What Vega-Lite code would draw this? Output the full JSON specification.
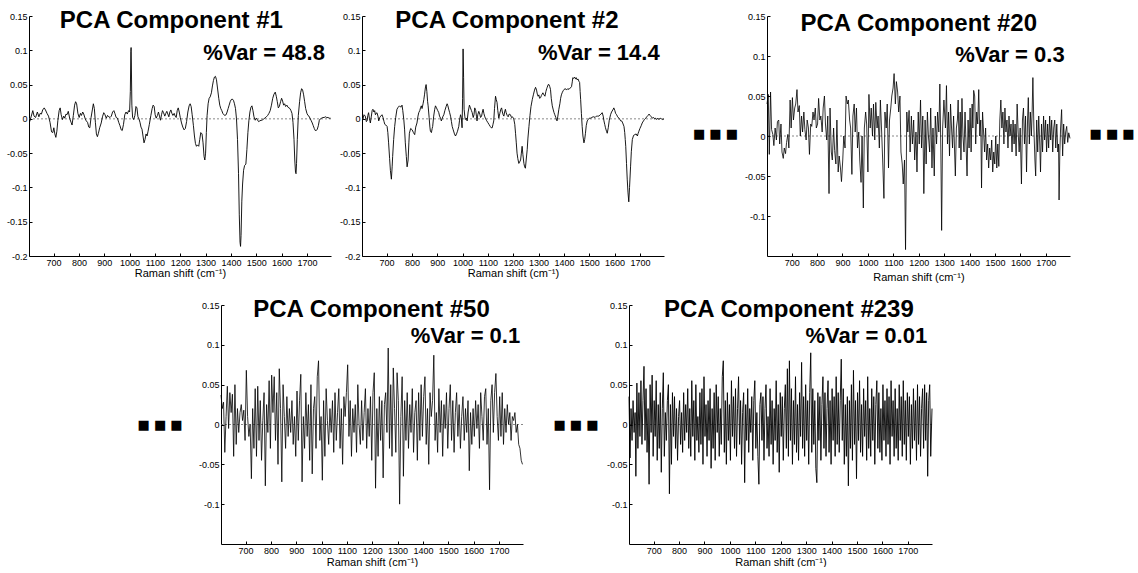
{
"$schema":"https://vega.github.io/schema/vega-lite/v6.json",
"background":"white",
"padding":{"left":6,"top":9,"right":0,"bottom":0},
"config":{
"view":{"stroke":null},
"font":"Liberation Sans",
"text":{"font":"Liberation Sans","color":"#000"},
"axis":{"grid":false,"domainColor":"#000","domainWidth":1,"tickColor":"#000","tickWidth":1,"tickSize":-3,"labelFont":"Liberation Sans","labelFontSize":9,"labelColor":"#000","labelPadding":5,"titleFont":"Liberation Sans","titleFontSize":11,"titleFontWeight":"normal","titleColor":"#000","labelFlush":false,"labelOverlap":false,"titlePadding":4}
},
"datasets":{
"pc1":[{"x":606,"y":-0.004},{"x":612,"y":0.004},{"x":618,"y":0.012},{"x":623,"y":0.004},{"x":629,"y":0.002},{"x":636,"y":0.010},{"x":642,"y":0.003},{"x":647,"y":0.008},{"x":652,"y":0.007},{"x":657,"y":0.013},{"x":663,"y":0.016},{"x":668,"y":0.013},{"x":674,"y":0.008},{"x":680,"y":0.004},{"x":686,"y":-0.005},{"x":692,"y":-0.019},{"x":697,"y":-0.020},{"x":701,"y":-0.013},{"x":705,"y":-0.022},{"x":709,"y":-0.027},{"x":713,"y":-0.018},{"x":717,"y":-0.002},{"x":722,"y":0.012},{"x":726,"y":0.016},{"x":730,"y":0.006},{"x":735,"y":-0.001},{"x":740,"y":0.004},{"x":744,"y":0.001},{"x":749,"y":0.007},{"x":753,"y":0.006},{"x":758,"y":0.011},{"x":764,"y":0.000},{"x":769,"y":-0.005},{"x":773,"y":-0.009},{"x":778,"y":0.005},{"x":783,"y":0.020},{"x":787,"y":0.025},{"x":791,"y":0.022},{"x":796,"y":0.008},{"x":801,"y":0.002},{"x":806,"y":0.008},{"x":810,"y":0.005},{"x":815,"y":0.010},{"x":819,"y":0.007},{"x":825,"y":0.000},{"x":829,"y":-0.003},{"x":834,"y":-0.005},{"x":839,"y":-0.012},{"x":843,"y":-0.013},{"x":848,"y":0.002},{"x":853,"y":0.013},{"x":857,"y":0.022},{"x":861,"y":0.015},{"x":865,"y":-0.005},{"x":869,"y":-0.022},{"x":873,"y":-0.026},{"x":877,"y":-0.021},{"x":882,"y":-0.013},{"x":888,"y":-0.006},{"x":893,"y":0.003},{"x":898,"y":0.009},{"x":903,"y":0.006},{"x":908,"y":0.001},{"x":913,"y":0.005},{"x":918,"y":0.003},{"x":923,"y":0.002},{"x":928,"y":0.004},{"x":933,"y":0.010},{"x":938,"y":0.012},{"x":942,"y":0.008},{"x":947,"y":0.002},{"x":952,"y":0.001},{"x":957,"y":-0.005},{"x":962,"y":-0.010},{"x":967,"y":-0.016},{"x":971,"y":-0.017},{"x":976,"y":-0.008},{"x":981,"y":0.006},{"x":986,"y":0.010},{"x":991,"y":0.007},{"x":996,"y":0.012},{"x":1000,"y":0.010},{"x":1003,"y":0.040},{"x":1005,"y":0.098},{"x":1006,"y":0.104},{"x":1007,"y":0.080},{"x":1009,"y":0.020},{"x":1012,"y":0.002},{"x":1016,"y":-0.001},{"x":1021,"y":0.005},{"x":1025,"y":0.018},{"x":1029,"y":0.016},{"x":1033,"y":0.003},{"x":1037,"y":0.000},{"x":1041,"y":-0.005},{"x":1045,"y":-0.012},{"x":1049,"y":-0.015},{"x":1053,"y":-0.025},{"x":1057,"y":-0.035},{"x":1061,"y":-0.030},{"x":1065,"y":-0.022},{"x":1069,"y":-0.025},{"x":1073,"y":-0.018},{"x":1078,"y":-0.008},{"x":1084,"y":0.005},{"x":1089,"y":0.015},{"x":1093,"y":0.020},{"x":1097,"y":0.018},{"x":1101,"y":0.006},{"x":1105,"y":0.001},{"x":1110,"y":0.005},{"x":1114,"y":0.010},{"x":1118,"y":0.004},{"x":1122,"y":-0.002},{"x":1126,"y":0.006},{"x":1130,"y":0.012},{"x":1134,"y":0.009},{"x":1139,"y":0.004},{"x":1143,"y":0.008},{"x":1147,"y":0.011},{"x":1151,"y":0.007},{"x":1155,"y":0.003},{"x":1159,"y":0.010},{"x":1163,"y":0.013},{"x":1167,"y":0.008},{"x":1171,"y":0.005},{"x":1176,"y":0.008},{"x":1180,"y":0.004},{"x":1184,"y":0.002},{"x":1188,"y":0.012},{"x":1192,"y":0.016},{"x":1196,"y":0.010},{"x":1200,"y":0.002},{"x":1205,"y":-0.006},{"x":1210,"y":-0.012},{"x":1215,"y":-0.016},{"x":1220,"y":-0.014},{"x":1225,"y":-0.004},{"x":1230,"y":0.010},{"x":1235,"y":0.019},{"x":1239,"y":0.022},{"x":1243,"y":0.018},{"x":1247,"y":0.006},{"x":1252,"y":-0.010},{"x":1256,"y":-0.025},{"x":1260,"y":-0.036},{"x":1264,"y":-0.040},{"x":1268,"y":-0.038},{"x":1273,"y":-0.040},{"x":1277,"y":-0.030},{"x":1281,"y":-0.020},{"x":1286,"y":-0.022},{"x":1290,"y":-0.035},{"x":1294,"y":-0.055},{"x":1297,"y":-0.060},{"x":1300,"y":-0.050},{"x":1303,"y":-0.020},{"x":1306,"y":0.005},{"x":1310,"y":0.022},{"x":1314,"y":0.030},{"x":1318,"y":0.032},{"x":1323,"y":0.038},{"x":1327,"y":0.048},{"x":1331,"y":0.056},{"x":1335,"y":0.061},{"x":1339,"y":0.062},{"x":1343,"y":0.057},{"x":1347,"y":0.045},{"x":1352,"y":0.030},{"x":1356,"y":0.020},{"x":1360,"y":0.015},{"x":1364,"y":0.012},{"x":1368,"y":0.008},{"x":1372,"y":0.006},{"x":1376,"y":0.005},{"x":1381,"y":0.006},{"x":1385,"y":0.010},{"x":1389,"y":0.015},{"x":1393,"y":0.020},{"x":1397,"y":0.025},{"x":1401,"y":0.028},{"x":1405,"y":0.029},{"x":1410,"y":0.027},{"x":1414,"y":0.022},{"x":1418,"y":0.015},{"x":1422,"y":0.000},{"x":1426,"y":-0.030},{"x":1430,"y":-0.080},{"x":1433,"y":-0.140},{"x":1436,"y":-0.180},{"x":1438,"y":-0.186},{"x":1440,"y":-0.170},{"x":1443,"y":-0.120},{"x":1446,"y":-0.095},{"x":1450,"y":-0.075},{"x":1454,"y":-0.068},{"x":1459,"y":-0.066},{"x":1463,"y":-0.045},{"x":1467,"y":-0.020},{"x":1471,"y":-0.002},{"x":1475,"y":0.010},{"x":1479,"y":0.017},{"x":1483,"y":0.019},{"x":1487,"y":0.012},{"x":1491,"y":0.003},{"x":1496,"y":-0.002},{"x":1500,"y":0.001},{"x":1504,"y":-0.001},{"x":1509,"y":-0.004},{"x":1514,"y":-0.003},{"x":1519,"y":-0.002},{"x":1524,"y":-0.002},{"x":1529,"y":0.000},{"x":1534,"y":0.001},{"x":1540,"y":0.003},{"x":1545,"y":0.005},{"x":1550,"y":0.008},{"x":1555,"y":0.012},{"x":1560,"y":0.020},{"x":1565,"y":0.030},{"x":1570,"y":0.036},{"x":1575,"y":0.039},{"x":1579,"y":0.033},{"x":1583,"y":0.025},{"x":1587,"y":0.016},{"x":1591,"y":0.018},{"x":1596,"y":0.025},{"x":1600,"y":0.030},{"x":1604,"y":0.026},{"x":1608,"y":0.020},{"x":1612,"y":0.022},{"x":1616,"y":0.018},{"x":1621,"y":0.020},{"x":1625,"y":0.017},{"x":1629,"y":0.016},{"x":1633,"y":0.015},{"x":1637,"y":0.012},{"x":1641,"y":0.008},{"x":1645,"y":-0.005},{"x":1649,"y":-0.030},{"x":1652,"y":-0.060},{"x":1655,"y":-0.078},{"x":1657,"y":-0.080},{"x":1659,"y":-0.065},{"x":1662,"y":-0.030},{"x":1666,"y":0.005},{"x":1671,"y":0.025},{"x":1675,"y":0.038},{"x":1679,"y":0.044},{"x":1683,"y":0.042},{"x":1687,"y":0.035},{"x":1691,"y":0.025},{"x":1695,"y":0.015},{"x":1700,"y":0.008},{"x":1704,"y":0.005},{"x":1708,"y":0.004},{"x":1712,"y":0.001},{"x":1716,"y":-0.002},{"x":1721,"y":-0.006},{"x":1725,"y":-0.010},{"x":1729,"y":-0.014},{"x":1733,"y":-0.017},{"x":1737,"y":-0.017},{"x":1741,"y":-0.015},{"x":1745,"y":-0.010},{"x":1749,"y":-0.002},{"x":1753,"y":0.000},{"x":1758,"y":0.001},{"x":1763,"y":0.002},{"x":1768,"y":0.002},{"x":1773,"y":0.003},{"x":1778,"y":0.002},{"x":1783,"y":0.002},{"x":1788,"y":0.001},{"x":1793,"y":0.001}],
"pc2":[{"x":606,"y":-0.001},{"x":611,"y":0.006},{"x":616,"y":0.004},{"x":620,"y":-0.004},{"x":623,"y":-0.003},{"x":626,"y":0.005},{"x":629,"y":0.009},{"x":632,"y":0.001},{"x":636,"y":-0.006},{"x":640,"y":0.004},{"x":643,"y":0.012},{"x":646,"y":0.014},{"x":650,"y":0.010},{"x":653,"y":0.012},{"x":656,"y":0.006},{"x":659,"y":0.008},{"x":662,"y":0.009},{"x":666,"y":0.004},{"x":669,"y":-0.003},{"x":673,"y":0.002},{"x":677,"y":0.004},{"x":682,"y":0.006},{"x":686,"y":0.002},{"x":690,"y":-0.004},{"x":693,"y":-0.008},{"x":697,"y":-0.009},{"x":702,"y":-0.011},{"x":705,"y":-0.020},{"x":708,"y":-0.035},{"x":712,"y":-0.058},{"x":715,"y":-0.075},{"x":719,"y":-0.088},{"x":722,"y":-0.070},{"x":724,"y":-0.055},{"x":728,"y":-0.030},{"x":732,"y":-0.011},{"x":736,"y":0.002},{"x":741,"y":0.014},{"x":746,"y":0.017},{"x":751,"y":0.019},{"x":756,"y":0.017},{"x":761,"y":0.020},{"x":764,"y":0.012},{"x":768,"y":-0.001},{"x":771,"y":-0.015},{"x":774,"y":-0.035},{"x":778,"y":-0.055},{"x":781,"y":-0.070},{"x":785,"y":-0.060},{"x":788,"y":-0.035},{"x":790,"y":-0.021},{"x":795,"y":-0.014},{"x":801,"y":-0.016},{"x":806,"y":-0.020},{"x":811,"y":-0.023},{"x":815,"y":-0.012},{"x":820,"y":-0.006},{"x":824,"y":0.004},{"x":827,"y":0.009},{"x":831,"y":0.012},{"x":834,"y":0.016},{"x":837,"y":0.019},{"x":840,"y":0.015},{"x":844,"y":0.022},{"x":847,"y":0.028},{"x":850,"y":0.036},{"x":853,"y":0.045},{"x":856,"y":0.050},{"x":859,"y":0.040},{"x":862,"y":0.025},{"x":864,"y":0.019},{"x":868,"y":0.002},{"x":871,"y":-0.012},{"x":873,"y":-0.018},{"x":877,"y":-0.020},{"x":880,"y":-0.014},{"x":882,"y":-0.011},{"x":886,"y":0.004},{"x":890,"y":0.014},{"x":893,"y":0.019},{"x":897,"y":0.016},{"x":902,"y":0.012},{"x":906,"y":0.009},{"x":909,"y":0.004},{"x":913,"y":0.001},{"x":916,"y":-0.003},{"x":920,"y":0.001},{"x":923,"y":0.004},{"x":926,"y":0.006},{"x":930,"y":0.012},{"x":935,"y":0.018},{"x":939,"y":0.022},{"x":942,"y":0.019},{"x":946,"y":0.013},{"x":949,"y":0.009},{"x":953,"y":0.003},{"x":956,"y":-0.004},{"x":959,"y":-0.011},{"x":963,"y":-0.016},{"x":968,"y":-0.022},{"x":972,"y":-0.025},{"x":976,"y":-0.022},{"x":980,"y":-0.018},{"x":985,"y":-0.011},{"x":988,"y":-0.002},{"x":992,"y":0.006},{"x":995,"y":0.002},{"x":998,"y":-0.013},{"x":1000,"y":0.030},{"x":1002,"y":0.102},{"x":1004,"y":0.060},{"x":1006,"y":0.014},{"x":1009,"y":0.003},{"x":1011,"y":-0.001},{"x":1015,"y":0.001},{"x":1018,"y":-0.003},{"x":1022,"y":0.010},{"x":1027,"y":0.020},{"x":1031,"y":0.016},{"x":1035,"y":0.012},{"x":1038,"y":0.009},{"x":1042,"y":0.002},{"x":1045,"y":0.006},{"x":1048,"y":0.016},{"x":1052,"y":0.012},{"x":1055,"y":0.003},{"x":1057,"y":-0.003},{"x":1060,"y":0.006},{"x":1064,"y":0.011},{"x":1068,"y":0.007},{"x":1071,"y":0.002},{"x":1075,"y":0.004},{"x":1078,"y":0.010},{"x":1081,"y":0.014},{"x":1084,"y":0.008},{"x":1087,"y":0.004},{"x":1090,"y":0.001},{"x":1094,"y":-0.002},{"x":1099,"y":-0.005},{"x":1104,"y":-0.008},{"x":1109,"y":-0.011},{"x":1113,"y":-0.013},{"x":1117,"y":-0.013},{"x":1120,"y":-0.008},{"x":1123,"y":-0.003},{"x":1126,"y":0.015},{"x":1130,"y":0.033},{"x":1133,"y":0.028},{"x":1136,"y":0.024},{"x":1139,"y":0.012},{"x":1143,"y":0.001},{"x":1147,"y":0.008},{"x":1151,"y":0.014},{"x":1154,"y":0.016},{"x":1157,"y":0.010},{"x":1160,"y":0.006},{"x":1163,"y":0.004},{"x":1166,"y":0.010},{"x":1169,"y":0.014},{"x":1172,"y":0.009},{"x":1176,"y":0.005},{"x":1180,"y":0.003},{"x":1184,"y":0.007},{"x":1189,"y":0.006},{"x":1193,"y":0.002},{"x":1197,"y":0.003},{"x":1202,"y":0.000},{"x":1206,"y":-0.008},{"x":1209,"y":-0.021},{"x":1212,"y":-0.035},{"x":1215,"y":-0.050},{"x":1218,"y":-0.058},{"x":1222,"y":-0.065},{"x":1225,"y":-0.063},{"x":1229,"y":-0.060},{"x":1232,"y":-0.050},{"x":1235,"y":-0.040},{"x":1238,"y":-0.052},{"x":1242,"y":-0.065},{"x":1245,"y":-0.070},{"x":1248,"y":-0.072},{"x":1251,"y":-0.060},{"x":1255,"y":-0.045},{"x":1258,"y":-0.028},{"x":1262,"y":-0.011},{"x":1266,"y":0.005},{"x":1270,"y":0.018},{"x":1275,"y":0.028},{"x":1280,"y":0.036},{"x":1284,"y":0.042},{"x":1288,"y":0.046},{"x":1292,"y":0.042},{"x":1295,"y":0.036},{"x":1298,"y":0.033},{"x":1301,"y":0.035},{"x":1304,"y":0.030},{"x":1308,"y":0.031},{"x":1311,"y":0.034},{"x":1314,"y":0.036},{"x":1317,"y":0.038},{"x":1321,"y":0.035},{"x":1325,"y":0.033},{"x":1329,"y":0.040},{"x":1332,"y":0.044},{"x":1334,"y":0.046},{"x":1338,"y":0.050},{"x":1341,"y":0.050},{"x":1344,"y":0.047},{"x":1347,"y":0.043},{"x":1350,"y":0.030},{"x":1354,"y":0.019},{"x":1358,"y":0.013},{"x":1361,"y":0.009},{"x":1364,"y":0.006},{"x":1368,"y":0.002},{"x":1371,"y":-0.002},{"x":1373,"y":-0.003},{"x":1376,"y":0.004},{"x":1380,"y":0.014},{"x":1384,"y":0.022},{"x":1387,"y":0.030},{"x":1390,"y":0.035},{"x":1393,"y":0.038},{"x":1397,"y":0.041},{"x":1401,"y":0.043},{"x":1406,"y":0.044},{"x":1410,"y":0.042},{"x":1415,"y":0.044},{"x":1420,"y":0.043},{"x":1425,"y":0.045},{"x":1430,"y":0.047},{"x":1433,"y":0.054},{"x":1435,"y":0.060},{"x":1438,"y":0.059},{"x":1442,"y":0.061},{"x":1446,"y":0.058},{"x":1449,"y":0.060},{"x":1452,"y":0.057},{"x":1456,"y":0.058},{"x":1459,"y":0.055},{"x":1462,"y":0.053},{"x":1464,"y":0.040},{"x":1466,"y":0.028},{"x":1469,"y":0.008},{"x":1472,"y":-0.011},{"x":1475,"y":-0.025},{"x":1479,"y":-0.035},{"x":1482,"y":-0.030},{"x":1485,"y":-0.021},{"x":1488,"y":-0.010},{"x":1492,"y":-0.003},{"x":1496,"y":-0.001},{"x":1500,"y":0.001},{"x":1505,"y":0.001},{"x":1510,"y":0.002},{"x":1515,"y":0.003},{"x":1518,"y":0.003},{"x":1523,"y":0.002},{"x":1528,"y":0.004},{"x":1533,"y":0.004},{"x":1538,"y":0.004},{"x":1543,"y":0.006},{"x":1547,"y":0.007},{"x":1551,"y":0.009},{"x":1555,"y":0.004},{"x":1558,"y":-0.003},{"x":1561,"y":-0.008},{"x":1564,"y":-0.013},{"x":1568,"y":-0.018},{"x":1571,"y":-0.021},{"x":1575,"y":-0.013},{"x":1579,"y":-0.002},{"x":1584,"y":0.006},{"x":1588,"y":0.010},{"x":1593,"y":0.013},{"x":1597,"y":0.016},{"x":1601,"y":0.012},{"x":1604,"y":0.008},{"x":1608,"y":0.006},{"x":1612,"y":0.003},{"x":1617,"y":0.001},{"x":1621,"y":-0.001},{"x":1624,"y":-0.003},{"x":1628,"y":-0.003},{"x":1632,"y":-0.006},{"x":1635,"y":-0.009},{"x":1637,"y":-0.011},{"x":1640,"y":-0.020},{"x":1642,"y":-0.030},{"x":1644,"y":-0.040},{"x":1647,"y":-0.065},{"x":1650,"y":-0.089},{"x":1653,"y":-0.108},{"x":1656,"y":-0.121},{"x":1659,"y":-0.100},{"x":1663,"y":-0.070},{"x":1666,"y":-0.048},{"x":1670,"y":-0.030},{"x":1675,"y":-0.024},{"x":1680,"y":-0.023},{"x":1685,"y":-0.022},{"x":1690,"y":-0.025},{"x":1693,"y":-0.021},{"x":1696,"y":-0.018},{"x":1700,"y":-0.014},{"x":1705,"y":-0.010},{"x":1709,"y":-0.006},{"x":1714,"y":-0.003},{"x":1718,"y":-0.001},{"x":1723,"y":0.001},{"x":1727,"y":0.003},{"x":1732,"y":0.005},{"x":1736,"y":0.007},{"x":1740,"y":0.005},{"x":1745,"y":0.003},{"x":1749,"y":0.001},{"x":1754,"y":0.002},{"x":1758,"y":0.000},{"x":1762,"y":0.001},{"x":1766,"y":-0.001},{"x":1770,"y":0.001},{"x":1775,"y":-0.001},{"x":1780,"y":0.001},{"x":1785,"y":0.000},{"x":1790,"y":-0.001},{"x":1795,"y":0.000}],
"pc20":[{"x":603,"y":0.040},{"x":608,"y":0.052},{"x":612,"y":-0.023},{"x":617,"y":0.055},{"x":621,"y":0.008},{"x":626,"y":0.002},{"x":630,"y":-0.012},{"x":635,"y":0.010},{"x":640,"y":-0.005},{"x":644,"y":0.018},{"x":649,"y":0.020},{"x":653,"y":-0.010},{"x":658,"y":0.015},{"x":662,"y":-0.020},{"x":667,"y":-0.028},{"x":671,"y":-0.015},{"x":676,"y":-0.022},{"x":680,"y":-0.008},{"x":685,"y":0.002},{"x":689,"y":-0.015},{"x":694,"y":0.045},{"x":698,"y":0.010},{"x":703,"y":0.048},{"x":707,"y":0.020},{"x":712,"y":0.035},{"x":716,"y":0.040},{"x":721,"y":0.058},{"x":725,"y":0.030},{"x":730,"y":0.038},{"x":734,"y":0.000},{"x":739,"y":0.025},{"x":743,"y":0.005},{"x":748,"y":0.030},{"x":752,"y":0.008},{"x":757,"y":-0.005},{"x":761,"y":0.020},{"x":766,"y":0.010},{"x":770,"y":-0.023},{"x":775,"y":0.015},{"x":779,"y":0.012},{"x":784,"y":0.030},{"x":788,"y":0.020},{"x":793,"y":0.035},{"x":797,"y":0.010},{"x":802,"y":0.015},{"x":806,"y":0.047},{"x":811,"y":0.020},{"x":815,"y":0.025},{"x":820,"y":0.005},{"x":824,"y":0.035},{"x":829,"y":0.050},{"x":833,"y":0.015},{"x":838,"y":-0.005},{"x":842,"y":0.025},{"x":847,"y":-0.072},{"x":851,"y":0.035},{"x":856,"y":-0.020},{"x":860,"y":-0.030},{"x":865,"y":0.010},{"x":869,"y":-0.018},{"x":874,"y":-0.035},{"x":878,"y":0.020},{"x":883,"y":-0.045},{"x":887,"y":-0.025},{"x":892,"y":-0.040},{"x":896,"y":-0.057},{"x":901,"y":-0.030},{"x":905,"y":0.000},{"x":910,"y":-0.015},{"x":914,"y":0.050},{"x":919,"y":0.040},{"x":923,"y":0.045},{"x":928,"y":0.020},{"x":932,"y":0.010},{"x":937,"y":-0.048},{"x":941,"y":0.025},{"x":946,"y":0.040},{"x":950,"y":0.005},{"x":955,"y":0.035},{"x":959,"y":-0.015},{"x":964,"y":0.005},{"x":968,"y":-0.030},{"x":973,"y":-0.058},{"x":977,"y":0.000},{"x":982,"y":-0.090},{"x":986,"y":0.010},{"x":991,"y":0.030},{"x":995,"y":0.015},{"x":1000,"y":-0.045},{"x":1004,"y":0.052},{"x":1009,"y":0.010},{"x":1013,"y":0.035},{"x":1018,"y":0.000},{"x":1022,"y":0.040},{"x":1027,"y":-0.005},{"x":1031,"y":0.042},{"x":1036,"y":0.010},{"x":1040,"y":0.025},{"x":1045,"y":-0.015},{"x":1049,"y":0.045},{"x":1054,"y":0.005},{"x":1058,"y":-0.030},{"x":1063,"y":-0.078},{"x":1067,"y":0.030},{"x":1072,"y":0.010},{"x":1076,"y":0.040},{"x":1081,"y":-0.040},{"x":1085,"y":0.020},{"x":1090,"y":0.035},{"x":1094,"y":0.050},{"x":1099,"y":0.060},{"x":1103,"y":0.078},{"x":1108,"y":0.040},{"x":1112,"y":0.068},{"x":1117,"y":0.055},{"x":1121,"y":0.030},{"x":1126,"y":0.050},{"x":1130,"y":-0.020},{"x":1135,"y":-0.035},{"x":1139,"y":-0.060},{"x":1144,"y":-0.030},{"x":1148,"y":-0.142},{"x":1153,"y":0.030},{"x":1157,"y":0.005},{"x":1162,"y":0.032},{"x":1166,"y":-0.020},{"x":1171,"y":0.025},{"x":1175,"y":-0.010},{"x":1180,"y":0.020},{"x":1184,"y":-0.030},{"x":1189,"y":0.005},{"x":1193,"y":-0.045},{"x":1198,"y":0.030},{"x":1202,"y":-0.010},{"x":1207,"y":0.045},{"x":1211,"y":-0.015},{"x":1216,"y":0.025},{"x":1220,"y":-0.072},{"x":1225,"y":0.020},{"x":1229,"y":-0.035},{"x":1234,"y":0.030},{"x":1238,"y":0.000},{"x":1243,"y":-0.020},{"x":1247,"y":0.035},{"x":1252,"y":-0.040},{"x":1256,"y":0.010},{"x":1261,"y":-0.050},{"x":1265,"y":0.025},{"x":1270,"y":-0.010},{"x":1274,"y":0.030},{"x":1279,"y":0.005},{"x":1283,"y":0.065},{"x":1287,"y":-0.020},{"x":1290,"y":-0.118},{"x":1294,"y":0.010},{"x":1299,"y":0.045},{"x":1305,"y":0.010},{"x":1309,"y":0.063},{"x":1313,"y":-0.010},{"x":1317,"y":0.030},{"x":1321,"y":-0.025},{"x":1325,"y":0.040},{"x":1329,"y":0.010},{"x":1333,"y":-0.015},{"x":1337,"y":0.025},{"x":1341,"y":-0.020},{"x":1344,"y":-0.050},{"x":1348,"y":0.010},{"x":1352,"y":0.020},{"x":1355,"y":0.045},{"x":1359,"y":-0.015},{"x":1363,"y":0.030},{"x":1366,"y":-0.030},{"x":1370,"y":0.047},{"x":1374,"y":0.000},{"x":1378,"y":-0.020},{"x":1382,"y":0.030},{"x":1386,"y":-0.010},{"x":1390,"y":-0.050},{"x":1394,"y":0.020},{"x":1398,"y":-0.015},{"x":1402,"y":0.035},{"x":1406,"y":-0.020},{"x":1410,"y":0.040},{"x":1413,"y":0.010},{"x":1416,"y":0.057},{"x":1420,"y":0.050},{"x":1424,"y":-0.010},{"x":1428,"y":0.030},{"x":1432,"y":0.015},{"x":1436,"y":0.058},{"x":1440,"y":0.000},{"x":1444,"y":0.020},{"x":1447,"y":-0.065},{"x":1451,"y":0.030},{"x":1455,"y":0.005},{"x":1459,"y":-0.020},{"x":1463,"y":0.010},{"x":1467,"y":-0.030},{"x":1471,"y":-0.010},{"x":1475,"y":-0.040},{"x":1479,"y":-0.015},{"x":1483,"y":-0.030},{"x":1487,"y":-0.005},{"x":1491,"y":-0.045},{"x":1495,"y":-0.020},{"x":1499,"y":-0.035},{"x":1503,"y":0.000},{"x":1507,"y":-0.040},{"x":1511,"y":-0.010},{"x":1515,"y":-0.038},{"x":1519,"y":0.020},{"x":1523,"y":0.045},{"x":1527,"y":0.010},{"x":1531,"y":0.030},{"x":1535,"y":-0.010},{"x":1539,"y":0.035},{"x":1543,"y":0.005},{"x":1547,"y":0.020},{"x":1551,"y":-0.015},{"x":1555,"y":0.025},{"x":1559,"y":0.000},{"x":1563,"y":0.015},{"x":1567,"y":-0.020},{"x":1571,"y":0.020},{"x":1575,"y":-0.010},{"x":1579,"y":0.015},{"x":1583,"y":-0.025},{"x":1587,"y":0.040},{"x":1591,"y":0.005},{"x":1595,"y":-0.020},{"x":1599,"y":0.010},{"x":1604,"y":-0.060},{"x":1608,"y":0.020},{"x":1612,"y":0.035},{"x":1616,"y":-0.010},{"x":1620,"y":0.025},{"x":1624,"y":-0.045},{"x":1628,"y":0.020},{"x":1631,"y":0.048},{"x":1635,"y":-0.010},{"x":1639,"y":0.030},{"x":1643,"y":0.000},{"x":1646,"y":0.030},{"x":1649,"y":0.073},{"x":1653,"y":0.010},{"x":1657,"y":-0.030},{"x":1660,"y":-0.050},{"x":1664,"y":0.020},{"x":1668,"y":-0.020},{"x":1672,"y":0.025},{"x":1676,"y":-0.010},{"x":1679,"y":-0.045},{"x":1683,"y":0.015},{"x":1687,"y":-0.020},{"x":1691,"y":0.025},{"x":1695,"y":-0.005},{"x":1699,"y":0.020},{"x":1703,"y":-0.020},{"x":1707,"y":0.015},{"x":1711,"y":-0.015},{"x":1715,"y":0.025},{"x":1719,"y":-0.005},{"x":1723,"y":0.020},{"x":1727,"y":-0.020},{"x":1731,"y":0.010},{"x":1735,"y":0.020},{"x":1739,"y":-0.015},{"x":1743,"y":0.015},{"x":1747,"y":-0.020},{"x":1750,"y":-0.010},{"x":1752,"y":-0.080},{"x":1755,"y":-0.020},{"x":1758,"y":0.010},{"x":1762,"y":0.033},{"x":1766,"y":-0.025},{"x":1770,"y":0.015},{"x":1774,"y":-0.010},{"x":1778,"y":0.005},{"x":1782,"y":0.012},{"x":1786,"y":-0.008},{"x":1790,"y":0.004},{"x":1795,"y":-0.003}],
"pc50":[{"x":603,"y":0.037},{"x":608,"y":0.020},{"x":613,"y":0.028},{"x":618,"y":-0.035},{"x":623,"y":0.010},{"x":628,"y":0.048},{"x":633,"y":-0.005},{"x":638,"y":0.040},{"x":643,"y":0.015},{"x":648,"y":0.038},{"x":653,"y":-0.040},{"x":658,"y":0.050},{"x":663,"y":-0.025},{"x":668,"y":0.020},{"x":673,"y":-0.010},{"x":678,"y":0.015},{"x":683,"y":0.025},{"x":688,"y":0.005},{"x":693,"y":0.018},{"x":698,"y":-0.020},{"x":703,"y":0.068},{"x":708,"y":0.010},{"x":713,"y":-0.015},{"x":718,"y":0.000},{"x":723,"y":-0.068},{"x":728,"y":0.020},{"x":733,"y":-0.030},{"x":738,"y":0.045},{"x":743,"y":-0.040},{"x":748,"y":0.048},{"x":753,"y":-0.020},{"x":758,"y":0.030},{"x":763,"y":-0.045},{"x":768,"y":0.005},{"x":773,"y":0.040},{"x":778,"y":-0.077},{"x":783,"y":0.025},{"x":788,"y":-0.010},{"x":793,"y":0.055},{"x":798,"y":-0.030},{"x":803,"y":0.062},{"x":808,"y":0.015},{"x":813,"y":0.060},{"x":818,"y":-0.020},{"x":823,"y":0.040},{"x":828,"y":-0.050},{"x":833,"y":0.070},{"x":838,"y":0.020},{"x":843,"y":-0.072},{"x":848,"y":0.050},{"x":853,"y":0.010},{"x":858,"y":-0.030},{"x":863,"y":0.035},{"x":868,"y":-0.015},{"x":873,"y":0.020},{"x":878,"y":-0.010},{"x":883,"y":0.030},{"x":888,"y":-0.025},{"x":893,"y":0.010},{"x":898,"y":-0.040},{"x":903,"y":0.042},{"x":908,"y":-0.020},{"x":913,"y":0.030},{"x":918,"y":0.063},{"x":923,"y":-0.072},{"x":928,"y":0.010},{"x":933,"y":-0.030},{"x":938,"y":0.040},{"x":943,"y":-0.015},{"x":948,"y":0.025},{"x":953,"y":-0.045},{"x":958,"y":0.050},{"x":963,"y":-0.062},{"x":968,"y":0.020},{"x":973,"y":0.035},{"x":978,"y":-0.030},{"x":983,"y":0.060},{"x":988,"y":0.080},{"x":993,"y":-0.020},{"x":998,"y":0.010},{"x":1003,"y":-0.070},{"x":1008,"y":0.030},{"x":1013,"y":-0.040},{"x":1018,"y":0.045},{"x":1023,"y":0.005},{"x":1028,"y":-0.025},{"x":1033,"y":0.020},{"x":1038,"y":-0.010},{"x":1043,"y":0.030},{"x":1048,"y":-0.035},{"x":1053,"y":0.040},{"x":1058,"y":-0.020},{"x":1063,"y":0.015},{"x":1068,"y":0.045},{"x":1073,"y":-0.030},{"x":1078,"y":0.020},{"x":1083,"y":-0.050},{"x":1088,"y":0.035},{"x":1093,"y":0.010},{"x":1098,"y":0.040},{"x":1103,"y":0.075},{"x":1108,"y":-0.015},{"x":1113,"y":0.030},{"x":1118,"y":-0.040},{"x":1123,"y":0.020},{"x":1128,"y":-0.010},{"x":1133,"y":0.025},{"x":1138,"y":-0.035},{"x":1143,"y":0.050},{"x":1148,"y":0.000},{"x":1153,"y":-0.025},{"x":1158,"y":0.030},{"x":1163,"y":-0.020},{"x":1168,"y":0.015},{"x":1173,"y":0.045},{"x":1178,"y":-0.030},{"x":1183,"y":0.020},{"x":1188,"y":-0.015},{"x":1193,"y":0.035},{"x":1198,"y":-0.045},{"x":1203,"y":0.040},{"x":1208,"y":0.065},{"x":1213,"y":-0.080},{"x":1218,"y":0.020},{"x":1223,"y":-0.040},{"x":1228,"y":0.035},{"x":1233,"y":-0.020},{"x":1238,"y":0.030},{"x":1243,"y":-0.067},{"x":1248,"y":0.025},{"x":1253,"y":0.040},{"x":1258,"y":-0.010},{"x":1263,"y":0.096},{"x":1268,"y":-0.030},{"x":1273,"y":0.050},{"x":1278,"y":-0.040},{"x":1283,"y":0.071},{"x":1288,"y":0.020},{"x":1293,"y":-0.035},{"x":1298,"y":0.065},{"x":1303,"y":0.030},{"x":1308,"y":-0.100},{"x":1313,"y":0.010},{"x":1318,"y":0.060},{"x":1323,"y":-0.065},{"x":1328,"y":0.030},{"x":1333,"y":-0.020},{"x":1338,"y":0.040},{"x":1343,"y":-0.030},{"x":1348,"y":0.025},{"x":1353,"y":-0.010},{"x":1358,"y":0.045},{"x":1363,"y":-0.035},{"x":1368,"y":0.015},{"x":1373,"y":0.030},{"x":1378,"y":-0.045},{"x":1383,"y":0.040},{"x":1388,"y":-0.020},{"x":1393,"y":0.050},{"x":1398,"y":-0.015},{"x":1403,"y":0.035},{"x":1408,"y":0.060},{"x":1413,"y":-0.025},{"x":1418,"y":0.020},{"x":1423,"y":-0.050},{"x":1428,"y":0.040},{"x":1433,"y":0.010},{"x":1438,"y":0.030},{"x":1443,"y":0.087},{"x":1448,"y":-0.020},{"x":1453,"y":0.015},{"x":1458,"y":-0.035},{"x":1463,"y":0.045},{"x":1468,"y":-0.010},{"x":1473,"y":0.030},{"x":1478,"y":-0.040},{"x":1483,"y":0.025},{"x":1488,"y":-0.005},{"x":1493,"y":0.040},{"x":1498,"y":-0.030},{"x":1503,"y":0.020},{"x":1508,"y":0.050},{"x":1513,"y":-0.020},{"x":1518,"y":0.030},{"x":1523,"y":-0.035},{"x":1528,"y":0.015},{"x":1533,"y":0.040},{"x":1538,"y":-0.015},{"x":1543,"y":0.025},{"x":1548,"y":-0.030},{"x":1553,"y":0.010},{"x":1558,"y":0.035},{"x":1563,"y":-0.020},{"x":1568,"y":0.020},{"x":1573,"y":-0.010},{"x":1578,"y":0.030},{"x":1583,"y":-0.058},{"x":1588,"y":0.015},{"x":1593,"y":-0.025},{"x":1598,"y":0.020},{"x":1603,"y":-0.015},{"x":1608,"y":0.030},{"x":1613,"y":-0.005},{"x":1618,"y":0.025},{"x":1623,"y":-0.030},{"x":1628,"y":0.040},{"x":1633,"y":0.010},{"x":1638,"y":-0.020},{"x":1643,"y":0.035},{"x":1648,"y":0.045},{"x":1653,"y":-0.025},{"x":1658,"y":0.020},{"x":1663,"y":-0.082},{"x":1668,"y":0.030},{"x":1673,"y":0.050},{"x":1678,"y":-0.010},{"x":1683,"y":0.040},{"x":1688,"y":0.064},{"x":1693,"y":0.010},{"x":1698,"y":-0.020},{"x":1703,"y":0.035},{"x":1708,"y":-0.015},{"x":1713,"y":0.040},{"x":1718,"y":-0.025},{"x":1723,"y":0.020},{"x":1728,"y":-0.010},{"x":1733,"y":0.025},{"x":1738,"y":0.000},{"x":1743,"y":0.015},{"x":1748,"y":-0.020},{"x":1753,"y":0.010},{"x":1758,"y":0.005},{"x":1763,"y":0.015},{"x":1768,"y":-0.010},{"x":1773,"y":0.000},{"x":1778,"y":-0.025},{"x":1783,"y":-0.030},{"x":1788,"y":-0.045},{"x":1793,"y":-0.050}],
"pc239":[{"x":603,"y":0.035},{"x":607,"y":-0.042},{"x":611,"y":0.020},{"x":615,"y":-0.020},{"x":619,"y":0.030},{"x":623,"y":-0.010},{"x":627,"y":0.015},{"x":630,"y":-0.065},{"x":634,"y":0.052},{"x":638,"y":-0.030},{"x":642,"y":0.040},{"x":646,"y":-0.015},{"x":650,"y":0.055},{"x":654,"y":-0.025},{"x":658,"y":0.030},{"x":662,"y":0.073},{"x":666,"y":-0.020},{"x":670,"y":0.045},{"x":674,"y":-0.035},{"x":678,"y":0.020},{"x":682,"y":-0.075},{"x":686,"y":0.050},{"x":690,"y":-0.010},{"x":694,"y":0.062},{"x":698,"y":-0.040},{"x":702,"y":0.030},{"x":706,"y":-0.015},{"x":710,"y":0.055},{"x":714,"y":-0.045},{"x":718,"y":0.025},{"x":722,"y":-0.030},{"x":726,"y":0.040},{"x":730,"y":-0.060},{"x":734,"y":0.020},{"x":738,"y":0.065},{"x":742,"y":-0.040},{"x":746,"y":0.015},{"x":750,"y":-0.020},{"x":754,"y":0.030},{"x":758,"y":0.050},{"x":762,"y":-0.087},{"x":766,"y":0.025},{"x":770,"y":-0.050},{"x":774,"y":0.040},{"x":778,"y":-0.015},{"x":782,"y":0.035},{"x":786,"y":-0.030},{"x":790,"y":0.020},{"x":794,"y":-0.045},{"x":798,"y":0.010},{"x":802,"y":0.030},{"x":806,"y":-0.025},{"x":810,"y":0.015},{"x":814,"y":-0.035},{"x":818,"y":0.040},{"x":822,"y":-0.020},{"x":826,"y":0.025},{"x":830,"y":-0.010},{"x":834,"y":0.045},{"x":838,"y":-0.030},{"x":842,"y":0.020},{"x":846,"y":-0.040},{"x":850,"y":0.055},{"x":854,"y":-0.015},{"x":858,"y":0.030},{"x":862,"y":-0.045},{"x":866,"y":0.050},{"x":870,"y":-0.020},{"x":874,"y":0.010},{"x":878,"y":-0.035},{"x":882,"y":0.040},{"x":886,"y":-0.025},{"x":890,"y":0.045},{"x":894,"y":-0.050},{"x":898,"y":0.060},{"x":902,"y":-0.015},{"x":906,"y":0.025},{"x":910,"y":-0.040},{"x":914,"y":0.030},{"x":918,"y":-0.020},{"x":922,"y":0.045},{"x":926,"y":-0.055},{"x":930,"y":0.020},{"x":934,"y":-0.030},{"x":938,"y":0.040},{"x":942,"y":-0.045},{"x":946,"y":0.050},{"x":950,"y":-0.010},{"x":954,"y":0.035},{"x":958,"y":-0.040},{"x":962,"y":0.020},{"x":966,"y":-0.025},{"x":970,"y":0.060},{"x":974,"y":0.080},{"x":978,"y":-0.035},{"x":982,"y":0.030},{"x":986,"y":-0.050},{"x":990,"y":0.040},{"x":994,"y":-0.020},{"x":998,"y":0.025},{"x":1002,"y":-0.045},{"x":1006,"y":0.055},{"x":1010,"y":-0.015},{"x":1014,"y":0.035},{"x":1018,"y":-0.030},{"x":1022,"y":0.045},{"x":1026,"y":-0.040},{"x":1030,"y":0.020},{"x":1034,"y":0.060},{"x":1038,"y":-0.025},{"x":1042,"y":0.030},{"x":1046,"y":-0.050},{"x":1050,"y":0.015},{"x":1054,"y":0.040},{"x":1058,"y":-0.073},{"x":1062,"y":0.025},{"x":1066,"y":-0.020},{"x":1070,"y":0.045},{"x":1074,"y":-0.035},{"x":1078,"y":0.020},{"x":1082,"y":-0.010},{"x":1086,"y":0.035},{"x":1090,"y":-0.045},{"x":1094,"y":0.030},{"x":1098,"y":0.055},{"x":1102,"y":-0.030},{"x":1106,"y":0.015},{"x":1110,"y":-0.040},{"x":1114,"y":-0.075},{"x":1118,"y":0.025},{"x":1122,"y":0.040},{"x":1126,"y":-0.020},{"x":1130,"y":0.035},{"x":1134,"y":-0.045},{"x":1138,"y":0.020},{"x":1142,"y":0.050},{"x":1146,"y":-0.030},{"x":1150,"y":0.010},{"x":1154,"y":-0.040},{"x":1158,"y":0.045},{"x":1162,"y":-0.025},{"x":1166,"y":0.030},{"x":1170,"y":-0.050},{"x":1174,"y":0.020},{"x":1178,"y":-0.020},{"x":1182,"y":0.055},{"x":1186,"y":-0.035},{"x":1190,"y":0.025},{"x":1194,"y":-0.060},{"x":1198,"y":0.040},{"x":1202,"y":-0.015},{"x":1206,"y":0.035},{"x":1210,"y":-0.045},{"x":1214,"y":0.020},{"x":1218,"y":0.050},{"x":1222,"y":-0.030},{"x":1226,"y":0.070},{"x":1230,"y":-0.040},{"x":1234,"y":0.080},{"x":1238,"y":-0.020},{"x":1242,"y":0.045},{"x":1246,"y":-0.050},{"x":1250,"y":0.030},{"x":1254,"y":-0.025},{"x":1258,"y":0.060},{"x":1262,"y":-0.035},{"x":1266,"y":0.025},{"x":1270,"y":-0.045},{"x":1274,"y":0.040},{"x":1278,"y":-0.015},{"x":1282,"y":0.078},{"x":1286,"y":-0.030},{"x":1290,"y":0.035},{"x":1294,"y":-0.040},{"x":1298,"y":0.050},{"x":1302,"y":-0.020},{"x":1306,"y":0.030},{"x":1310,"y":-0.050},{"x":1314,"y":0.040},{"x":1318,"y":0.090},{"x":1322,"y":-0.035},{"x":1326,"y":0.045},{"x":1330,"y":-0.025},{"x":1334,"y":0.030},{"x":1338,"y":-0.055},{"x":1342,"y":-0.073},{"x":1346,"y":0.040},{"x":1350,"y":-0.020},{"x":1354,"y":0.035},{"x":1358,"y":-0.045},{"x":1362,"y":0.025},{"x":1366,"y":0.060},{"x":1370,"y":-0.030},{"x":1374,"y":0.040},{"x":1378,"y":-0.040},{"x":1382,"y":0.020},{"x":1386,"y":0.055},{"x":1390,"y":-0.035},{"x":1394,"y":0.030},{"x":1398,"y":-0.050},{"x":1402,"y":0.045},{"x":1406,"y":-0.020},{"x":1410,"y":0.035},{"x":1414,"y":-0.040},{"x":1418,"y":0.060},{"x":1422,"y":-0.025},{"x":1426,"y":0.040},{"x":1430,"y":-0.035},{"x":1434,"y":0.030},{"x":1438,"y":0.082},{"x":1442,"y":-0.020},{"x":1446,"y":0.045},{"x":1450,"y":-0.050},{"x":1454,"y":0.025},{"x":1458,"y":-0.040},{"x":1462,"y":0.035},{"x":1466,"y":-0.077},{"x":1470,"y":0.030},{"x":1474,"y":-0.030},{"x":1478,"y":0.050},{"x":1482,"y":-0.045},{"x":1486,"y":0.068},{"x":1490,"y":-0.025},{"x":1494,"y":0.030},{"x":1498,"y":-0.068},{"x":1502,"y":0.040},{"x":1506,"y":-0.020},{"x":1510,"y":0.055},{"x":1514,"y":-0.035},{"x":1518,"y":0.025},{"x":1522,"y":-0.040},{"x":1526,"y":0.045},{"x":1530,"y":-0.015},{"x":1534,"y":0.030},{"x":1538,"y":-0.045},{"x":1542,"y":0.060},{"x":1546,"y":-0.030},{"x":1550,"y":0.020},{"x":1554,"y":-0.040},{"x":1558,"y":0.045},{"x":1562,"y":-0.020},{"x":1566,"y":0.035},{"x":1570,"y":-0.050},{"x":1574,"y":0.025},{"x":1578,"y":0.055},{"x":1582,"y":-0.030},{"x":1586,"y":0.040},{"x":1590,"y":-0.035},{"x":1594,"y":0.020},{"x":1598,"y":-0.045},{"x":1602,"y":0.050},{"x":1606,"y":-0.020},{"x":1610,"y":0.030},{"x":1614,"y":-0.040},{"x":1618,"y":0.045},{"x":1622,"y":-0.025},{"x":1626,"y":0.035},{"x":1630,"y":-0.050},{"x":1634,"y":0.055},{"x":1638,"y":-0.015},{"x":1642,"y":0.030},{"x":1646,"y":-0.040},{"x":1650,"y":0.045},{"x":1654,"y":-0.030},{"x":1658,"y":0.020},{"x":1662,"y":-0.045},{"x":1666,"y":0.050},{"x":1670,"y":-0.020},{"x":1674,"y":0.035},{"x":1678,"y":-0.040},{"x":1682,"y":0.055},{"x":1686,"y":-0.025},{"x":1690,"y":0.030},{"x":1694,"y":-0.045},{"x":1698,"y":0.040},{"x":1702,"y":-0.015},{"x":1706,"y":0.035},{"x":1710,"y":-0.050},{"x":1714,"y":0.025},{"x":1718,"y":-0.030},{"x":1722,"y":0.045},{"x":1726,"y":-0.020},{"x":1730,"y":0.030},{"x":1734,"y":-0.045},{"x":1738,"y":0.050},{"x":1742,"y":-0.025},{"x":1746,"y":0.035},{"x":1750,"y":-0.040},{"x":1754,"y":0.020},{"x":1758,"y":0.045},{"x":1762,"y":-0.030},{"x":1766,"y":0.050},{"x":1770,"y":-0.020},{"x":1774,"y":0.040},{"x":1778,"y":-0.065},{"x":1782,"y":0.030},{"x":1786,"y":0.050},{"x":1790,"y":-0.040},{"x":1795,"y":0.020}]
},
"spacing":15,
"vconcat":[
{"hconcat":[
{"width":302,"height":240,"layer":[
{"data":{"values":[{}]},"mark":{"type":"rule","color":"#555","strokeWidth":0.7,"strokeDash":[2,2]},"encoding":{"y":{"datum":0,"type":"quantitative","scale":{"domain":[-0.2,0.15],"nice":false,"zero":false},"axis":{"values":[-0.2,-0.15,-0.1,-0.05,0,0.05,0.1,0.15],"labelExpr":"'' + datum.value","title":null}}}},
{"data":{"name":"pc1"},"mark":{"type":"line","color":"#000","strokeWidth":0.9},"encoding":{"x":{"field":"x","type":"quantitative","scale":{"domain":[603,1795],"nice":false,"zero":false},"axis":{"values":[700,800,900,1000,1100,1200,1300,1400,1500,1600,1700],"format":"d","title":"Raman shift (cm⁻¹)","titlePadding":0}},"y":{"field":"y","type":"quantitative","scale":{"domain":[-0.2,0.15],"nice":false,"zero":false},"axis":{"values":[-0.2,-0.15,-0.1,-0.05,0,0.05,0.1,0.15],"labelExpr":"'' + datum.value","title":null}}}},
{"data":{"values":[{}]},"mark":{"type":"text","text":"PCA Component #1","fontSize":24,"fontWeight":"bold","align":"center","baseline":"alphabetic"},"encoding":{"x":{"datum":1165,"type":"quantitative","scale":{"domain":[603,1795],"nice":false,"zero":false},"axis":{"values":[700,800,900,1000,1100,1200,1300,1400,1500,1600,1700],"format":"d","title":"Raman shift (cm⁻¹)","titlePadding":0}},"y":{"datum":0.132,"type":"quantitative","scale":{"domain":[-0.2,0.15],"nice":false,"zero":false},"axis":{"values":[-0.2,-0.15,-0.1,-0.05,0,0.05,0.1,0.15],"labelExpr":"'' + datum.value","title":null}}}},
{"data":{"values":[{}]},"mark":{"type":"text","text":"%Var = 48.8","fontSize":22,"fontWeight":"bold","align":"right","baseline":"alphabetic"},"encoding":{"x":{"datum":1771,"type":"quantitative","scale":{"domain":[603,1795],"nice":false,"zero":false},"axis":{"values":[700,800,900,1000,1100,1200,1300,1400,1500,1600,1700],"format":"d","title":"Raman shift (cm⁻¹)","titlePadding":0}},"y":{"datum":0.086,"type":"quantitative","scale":{"domain":[-0.2,0.15],"nice":false,"zero":false},"axis":{"values":[-0.2,-0.15,-0.1,-0.05,0,0.05,0.1,0.15],"labelExpr":"'' + datum.value","title":null}}}}
]},
{"width":302,"height":240,"layer":[
{"data":{"values":[{}]},"mark":{"type":"rule","color":"#555","strokeWidth":0.7,"strokeDash":[2,2]},"encoding":{"y":{"datum":0,"type":"quantitative","scale":{"domain":[-0.2,0.15],"nice":false,"zero":false},"axis":{"values":[-0.2,-0.15,-0.1,-0.05,0,0.05,0.1,0.15],"labelExpr":"'' + datum.value","title":null}}}},
{"data":{"name":"pc2"},"mark":{"type":"line","color":"#000","strokeWidth":0.9},"encoding":{"x":{"field":"x","type":"quantitative","scale":{"domain":[603,1795],"nice":false,"zero":false},"axis":{"values":[700,800,900,1000,1100,1200,1300,1400,1500,1600,1700],"format":"d","title":"Raman shift (cm⁻¹)","titlePadding":0}},"y":{"field":"y","type":"quantitative","scale":{"domain":[-0.2,0.15],"nice":false,"zero":false},"axis":{"values":[-0.2,-0.15,-0.1,-0.05,0,0.05,0.1,0.15],"labelExpr":"'' + datum.value","title":null}}}},
{"data":{"values":[{}]},"mark":{"type":"text","text":"PCA Component #2","fontSize":24,"fontWeight":"bold","align":"center","baseline":"alphabetic"},"encoding":{"x":{"datum":1175,"type":"quantitative","scale":{"domain":[603,1795],"nice":false,"zero":false},"axis":{"values":[700,800,900,1000,1100,1200,1300,1400,1500,1600,1700],"format":"d","title":"Raman shift (cm⁻¹)","titlePadding":0}},"y":{"datum":0.132,"type":"quantitative","scale":{"domain":[-0.2,0.15],"nice":false,"zero":false},"axis":{"values":[-0.2,-0.15,-0.1,-0.05,0,0.05,0.1,0.15],"labelExpr":"'' + datum.value","title":null}}}},
{"data":{"values":[{}]},"mark":{"type":"text","text":"%Var = 14.4","fontSize":22,"fontWeight":"bold","align":"right","baseline":"alphabetic"},"encoding":{"x":{"datum":1778,"type":"quantitative","scale":{"domain":[603,1795],"nice":false,"zero":false},"axis":{"values":[700,800,900,1000,1100,1200,1300,1400,1500,1600,1700],"format":"d","title":"Raman shift (cm⁻¹)","titlePadding":0}},"y":{"datum":0.086,"type":"quantitative","scale":{"domain":[-0.2,0.15],"nice":false,"zero":false},"axis":{"values":[-0.2,-0.15,-0.1,-0.05,0,0.05,0.1,0.15],"labelExpr":"'' + datum.value","title":null}}}}
]},
{"width":41,"height":240,"data":{"values":[{}]},"mark":{"type":"text","text":"■ ■ ■","font":"DejaVu Sans","fontSize":13,"align":"center","baseline":"middle"},"encoding":{"x":{"datum":0.5,"type":"quantitative","scale":{"domain":[0,1]},"axis":null},"y":{"datum":0.003,"type":"quantitative","scale":{"domain":[-0.15,0.15]},"axis":null}}},
{"width":303,"height":240,"layer":[
{"data":{"values":[{}]},"mark":{"type":"rule","color":"#555","strokeWidth":0.7,"strokeDash":[2,2]},"encoding":{"y":{"datum":0,"type":"quantitative","scale":{"domain":[-0.15,0.15],"nice":false,"zero":false},"axis":{"values":[-0.1,-0.05,0,0.05,0.1,0.15],"labelExpr":"'' + datum.value","title":null}}}},
{"data":{"name":"pc20"},"mark":{"type":"line","color":"#000","strokeWidth":0.8},"encoding":{"x":{"field":"x","type":"quantitative","scale":{"domain":[603,1795],"nice":false,"zero":false},"axis":{"values":[700,800,900,1000,1100,1200,1300,1400,1500,1600,1700],"format":"d","title":"Raman shift (cm⁻¹)"}},"y":{"field":"y","type":"quantitative","scale":{"domain":[-0.15,0.15],"nice":false,"zero":false},"axis":{"values":[-0.1,-0.05,0,0.05,0.1,0.15],"labelExpr":"'' + datum.value","title":null}}}},
{"data":{"values":[{}]},"mark":{"type":"text","text":"PCA Component #20","fontSize":24,"fontWeight":"bold","align":"center","baseline":"alphabetic"},"encoding":{"x":{"datum":1200,"type":"quantitative","scale":{"domain":[603,1795],"nice":false,"zero":false},"axis":{"values":[700,800,900,1000,1100,1200,1300,1400,1500,1600,1700],"format":"d","title":"Raman shift (cm⁻¹)"}},"y":{"datum":0.131,"type":"quantitative","scale":{"domain":[-0.15,0.15],"nice":false,"zero":false},"axis":{"values":[-0.1,-0.05,0,0.05,0.1,0.15],"labelExpr":"'' + datum.value","title":null}}}},
{"data":{"values":[{}]},"mark":{"type":"text","text":"%Var = 0.3","fontSize":22,"fontWeight":"bold","align":"right","baseline":"alphabetic"},"encoding":{"x":{"datum":1774,"type":"quantitative","scale":{"domain":[603,1795],"nice":false,"zero":false},"axis":{"values":[700,800,900,1000,1100,1200,1300,1400,1500,1600,1700],"format":"d","title":"Raman shift (cm⁻¹)"}},"y":{"datum":0.0925,"type":"quantitative","scale":{"domain":[-0.15,0.15],"nice":false,"zero":false},"axis":{"values":[-0.1,-0.05,0,0.05,0.1,0.15],"labelExpr":"'' + datum.value","title":null}}}}
]},
{"width":30,"height":240,"data":{"values":[{}]},"mark":{"type":"text","text":"■ ■ ■","font":"DejaVu Sans","fontSize":13,"align":"center","baseline":"middle"},"encoding":{"x":{"datum":0.37,"type":"quantitative","scale":{"domain":[0,1]},"axis":null},"y":{"datum":0.003,"type":"quantitative","scale":{"domain":[-0.15,0.15]},"axis":null}}}
],"spacing":31,"bounds":"flush"},
{"hconcat":[
{"width":161,"height":239,"data":{"values":[{}]},"mark":{"type":"text","text":"■ ■ ■","font":"DejaVu Sans","fontSize":13,"align":"center","baseline":"middle"},"encoding":{"x":{"datum":0.814,"type":"quantitative","scale":{"domain":[0,1]},"axis":null},"y":{"datum":0,"type":"quantitative","scale":{"domain":[-0.15,0.15]},"axis":null}}},
{"width":302,"height":239,"layer":[
{"data":{"values":[{}]},"mark":{"type":"rule","color":"#555","strokeWidth":0.7,"strokeDash":[2,2]},"encoding":{"y":{"datum":0,"type":"quantitative","scale":{"domain":[-0.15,0.15],"nice":false,"zero":false},"axis":{"values":[-0.1,-0.05,0,0.05,0.1,0.15],"labelExpr":"'' + datum.value","title":null}}}},
{"data":{"name":"pc50"},"mark":{"type":"line","color":"#000","strokeWidth":0.8},"encoding":{"x":{"field":"x","type":"quantitative","scale":{"domain":[603,1795],"nice":false,"zero":false},"axis":{"values":[700,800,900,1000,1100,1200,1300,1400,1500,1600,1700],"format":"d","title":"Raman shift (cm⁻¹)","titlePadding":1}},"y":{"field":"y","type":"quantitative","scale":{"domain":[-0.15,0.15],"nice":false,"zero":false},"axis":{"values":[-0.1,-0.05,0,0.05,0.1,0.15],"labelExpr":"'' + datum.value","title":null}}}},
{"data":{"values":[{}]},"mark":{"type":"text","text":"PCA Component #50","fontSize":24,"fontWeight":"bold","align":"center","baseline":"alphabetic"},"encoding":{"x":{"datum":1197,"type":"quantitative","scale":{"domain":[603,1795],"nice":false,"zero":false},"axis":{"values":[700,800,900,1000,1100,1200,1300,1400,1500,1600,1700],"format":"d","title":"Raman shift (cm⁻¹)","titlePadding":1}},"y":{"datum":0.135,"type":"quantitative","scale":{"domain":[-0.15,0.15],"nice":false,"zero":false},"axis":{"values":[-0.1,-0.05,0,0.05,0.1,0.15],"labelExpr":"'' + datum.value","title":null}}}},
{"data":{"values":[{}]},"mark":{"type":"text","text":"%Var = 0.1","fontSize":22,"fontWeight":"bold","align":"right","baseline":"alphabetic"},"encoding":{"x":{"datum":1784,"type":"quantitative","scale":{"domain":[603,1795],"nice":false,"zero":false},"axis":{"values":[700,800,900,1000,1100,1200,1300,1400,1500,1600,1700],"format":"d","title":"Raman shift (cm⁻¹)","titlePadding":1}},"y":{"datum":0.102,"type":"quantitative","scale":{"domain":[-0.15,0.15],"nice":false,"zero":false},"axis":{"values":[-0.1,-0.05,0,0.05,0.1,0.15],"labelExpr":"'' + datum.value","title":null}}}}
]},
{"width":44,"height":239,"data":{"values":[{}]},"mark":{"type":"text","text":"■ ■ ■","font":"DejaVu Sans","fontSize":13,"align":"center","baseline":"middle"},"encoding":{"x":{"datum":0.5,"type":"quantitative","scale":{"domain":[0,1]},"axis":null},"y":{"datum":0,"type":"quantitative","scale":{"domain":[-0.15,0.15]},"axis":null}}},
{"width":303,"height":239,"layer":[
{"data":{"values":[{}]},"mark":{"type":"rule","color":"#555","strokeWidth":0.7,"strokeDash":[2,2]},"encoding":{"y":{"datum":0,"type":"quantitative","scale":{"domain":[-0.15,0.15],"nice":false,"zero":false},"axis":{"values":[-0.1,-0.05,0,0.05,0.1,0.15],"labelExpr":"'' + datum.value","title":null}}}},
{"data":{"name":"pc239"},"mark":{"type":"line","color":"#000","strokeWidth":0.9},"encoding":{"x":{"field":"x","type":"quantitative","scale":{"domain":[603,1795],"nice":false,"zero":false},"axis":{"values":[700,800,900,1000,1100,1200,1300,1400,1500,1600,1700],"format":"d","title":"Raman shift (cm⁻¹)","titlePadding":1}},"y":{"field":"y","type":"quantitative","scale":{"domain":[-0.15,0.15],"nice":false,"zero":false},"axis":{"values":[-0.1,-0.05,0,0.05,0.1,0.15],"labelExpr":"'' + datum.value","title":null}}}},
{"data":{"values":[{}]},"mark":{"type":"text","text":"PCA Component #239","fontSize":24,"fontWeight":"bold","align":"center","baseline":"alphabetic"},"encoding":{"x":{"datum":1232,"type":"quantitative","scale":{"domain":[603,1795],"nice":false,"zero":false},"axis":{"values":[700,800,900,1000,1100,1200,1300,1400,1500,1600,1700],"format":"d","title":"Raman shift (cm⁻¹)","titlePadding":1}},"y":{"datum":0.135,"type":"quantitative","scale":{"domain":[-0.15,0.15],"nice":false,"zero":false},"axis":{"values":[-0.1,-0.05,0,0.05,0.1,0.15],"labelExpr":"'' + datum.value","title":null}}}},
{"data":{"values":[{}]},"mark":{"type":"text","text":"%Var = 0.01","fontSize":22,"fontWeight":"bold","align":"right","baseline":"alphabetic"},"encoding":{"x":{"datum":1776,"type":"quantitative","scale":{"domain":[603,1795],"nice":false,"zero":false},"axis":{"values":[700,800,900,1000,1100,1200,1300,1400,1500,1600,1700],"format":"d","title":"Raman shift (cm⁻¹)","titlePadding":1}},"y":{"datum":0.102,"type":"quantitative","scale":{"domain":[-0.15,0.15],"nice":false,"zero":false},"axis":{"values":[-0.1,-0.05,0,0.05,0.1,0.15],"labelExpr":"'' + datum.value","title":null}}}}
]}
],"spacing":31,"bounds":"flush"}
]
}
